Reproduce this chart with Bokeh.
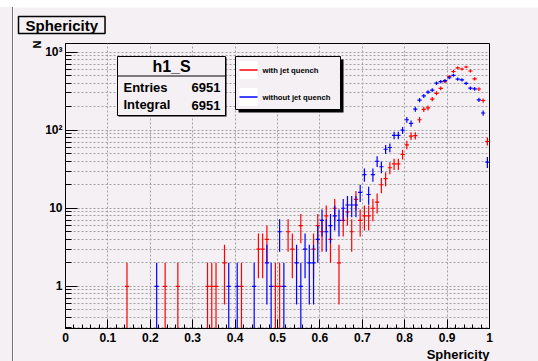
import numpy as np
from bokeh.plotting import figure
from bokeh.models import (Range1d, FixedTicker, CustomJSTickFormatter,
                          BoxAnnotation, Label, ColumnDataSource, Title,
                          Div, Spacer)
from bokeh.layouts import column, row
from bokeh.embed import file_html
from bokeh.resources import INLINE

# ---------------- data ----------------
n_bins = 100
x_min, x_max = 0.0, 1.0

with_quench = [
    0, 0, 0, 0, 0, 0, 0, 0, 0, 0,
    0, 0, 0, 0, 1, 0, 0, 0, 0, 0,
    0, 0, 0, 1, 0, 0, 1, 0, 0, 0,
    0, 0, 0, 1, 1, 1, 0, 2, 0, 0,
    0, 1, 0, 0, 0, 3, 3, 4, 0, 1,
    1, 0, 5, 3, 0, 6, 0, 0, 3, 6,
    5, 8, 4, 10, 2, 7, 9, 5, 13, 7,
    8, 8, 10, 12, 20, 24, 33, 37, 37, 49,
    65, 84, 85, 136, 185, 193, 250, 297, 343, 420,
    487, 565, 630, 608, 645, 573, 455, 337, 240, 72,
]
without_quench = [
    0, 0, 0, 0, 0, 0, 0, 0, 0, 0,
    0, 0, 0, 0, 0, 0, 0, 0, 0, 0,
    0, 1, 0, 0, 0, 0, 0, 0, 0, 0,
    0, 0, 0, 0, 0, 0, 0, 0, 1, 0,
    1, 0, 0, 0, 1, 0, 0, 2, 1, 0,
    5, 1, 0, 0, 2, 1, 3, 2, 2, 4,
    7, 5, 6, 8, 7, 10, 11, 11, 11, 16,
    27, 15, 27, 40, 34, 57, 60, 86, 86, 100,
    136, 122, 186, 243, 275, 308, 327, 400, 420, 432,
    470, 505, 452, 441, 398, 345, 338, 245, 166, 39,
]
series_labels = ["with jet quench", "without jet quench"]
series_colors = ["#ff0000", "#0000ff"]
x_ticks = [0, 0.1, 0.2, 0.3, 0.4, 0.5, 0.6, 0.7, 0.8, 0.9, 1.0]
y_ticks = [1, 10, 100, 1000]
y_minor = [m * 10.0 ** k for k in range(-1, 4) for m in range(2, 10)]
hist_name = "h1_S"
stat_names = ["Entries", "Integral"]
stat_values = ["6951", "6951"]
title_text = "Sphericity"
x_title = "Sphericity"
y_title = "N"

# ---------------- layout ----------------
PW, PH = 538, 361          # page size
OX, OY = 13, 7             # figure origin on the page
W, H = PW - OX, PH - OY    # figure size
L, R, T, B = 65, 489, 43, 329   # frame on the page
BG = "#f4f0f4"
FONT = "Liberation Sans"
GRID = "#a0a0a0"

p = figure(width=W, height=H, x_range=Range1d(x_min, x_max),
           y_range=Range1d(0.288, 1290), y_axis_type="log",
           output_backend="svg", toolbar_location=None,
           min_border_left=L - OX, min_border_right=PW - R,
           min_border_top=T - OY, min_border_bottom=PH - B,
           background_fill_color=BG, border_fill_color=BG,
           outline_line_color="black", outline_line_width=1)

# title box
p.title.text = title_text
p.title.align = "left"
p.title.vertical_align = "top"
p.title.offset = 17 - L + 1
p.title.standoff = 16
p.title.text_font = FONT
p.title.text_font_size = "15px"
p.title.text_font_style = "bold"
p.title.text_color = "black"
p.title.background_fill_color = BG
p.title.border_line_color = "black"
p.title.border_line_width = 1.5
p.title.padding = (7, 0)

p.xaxis.ticker = FixedTicker(ticks=x_ticks,
                             minor_ticks=[i * 0.02 for i in range(51)])
p.xaxis.formatter = CustomJSTickFormatter(
    code="return tick.toFixed(1).replace(/\\.0$/, '');")
p.yaxis.ticker = FixedTicker(ticks=y_ticks, minor_ticks=y_minor)
p.yaxis.formatter = CustomJSTickFormatter(code="""
const e = Math.round(Math.log10(tick));
const sup = '\u2070\u00b9\u00b2\u00b3\u2074\u2075\u2076\u2077\u2078\u2079';
if (e >= 2) return '10' + sup[e];
return String(Math.round(tick));
""")
for ax in (p.xaxis, p.yaxis):
    ax.axis_line_color = "black"
    ax.major_tick_line_color = "black"
    ax.minor_tick_line_color = "black"
    ax.major_tick_out = 0
    ax.minor_tick_out = 0
    ax.major_label_text_font = FONT
    ax.major_label_text_font_style = "bold"
    ax.major_label_text_font_size = "12px"
    ax.major_label_text_color = "black"
p.xaxis.major_tick_in = 9
p.xaxis.minor_tick_in = 4
p.yaxis.major_tick_in = 12
p.yaxis.minor_tick_in = 6
p.xaxis.major_label_standoff = 4
p.yaxis.major_label_standoff = 3

p.xgrid.grid_line_color = GRID
p.xgrid.grid_line_dash = "2 2"
p.ygrid.grid_line_color = GRID
p.ygrid.grid_line_dash = "2 2"
p.ygrid.minor_grid_line_color = GRID
p.ygrid.minor_grid_line_dash = "2 2"

# axis titles (outside the frame)
p.add_layout(Title(text=x_title, align="right", text_font=FONT,
                   text_font_size="13px", text_font_style="bold",
                   text_color="black", standoff=0), "below")
p.add_layout(Title(text=y_title, align="right", text_font=FONT,
                   text_font_size="11px", text_font_style="bold",
                   text_color="black", standoff=0, offset=-3), "left")

# ---------------- histograms ----------------
width = (x_max - x_min) / n_bins
centers = x_min + (np.arange(n_bins) + 0.5) * width
for counts, color in zip([with_quench, without_quench], series_colors):
    n = np.asarray(counts, dtype=float)
    m = n > 0
    err = np.sqrt(n[m])
    low = n[m] - err
    low = np.where(low > 0, low, 1e-3)
    src = ColumnDataSource(dict(x=centers[m], y=n[m], lo=low, hi=n[m] + err,
                                xl=centers[m] - width / 2,
                                xr=centers[m] + width / 2))
    p.segment(x0="x", x1="x", y0="lo", y1="hi", source=src,
              line_color=color, line_width=1.2)
    p.segment(x0="xl", x1="xr", y0="y", y1="y", source=src,
              line_color=color, line_width=1.2)


# ---------------- decorations inside the frame (page pixel coords) -------
def box(l, t, r, b, fill, line=None, lw=1):
    p.add_layout(BoxAnnotation(left=l - OX, right=r - OX,
                               top=t - OY, bottom=b - OY,
                               left_units="canvas", right_units="canvas",
                               top_units="canvas", bottom_units="canvas",
                               fill_color=fill, fill_alpha=1.0,
                               line_color=line, line_width=lw,
                               line_alpha=1.0))


def text(x, y, s, size, align="left", style="bold"):
    p.add_layout(Label(x=x - OX, y=y - OY, x_units="canvas",
                       y_units="canvas", text=s, text_font=FONT,
                       text_font_size=size, text_font_style=style,
                       text_align=align, text_baseline="middle",
                       text_color="black"))


# stats box
box(118, 57, 226, 116, "black")
box(117, 56, 225, 115, BG, "black")
box(117, 75, 225, 76, "black")
text(171, 66, hist_name, "16px", align="center")
text(123, 87, stat_names[0], "13px")
text(220, 87, stat_values[0], "13px", align="right")
text(123, 104, stat_names[1], "13px")
text(220, 105, stat_values[1], "13px", align="right")

# legend box
box(238, 59, 343, 112, "black")
box(235, 56, 340, 109, BG, "black")
for i, (lab, col) in enumerate(zip(series_labels, series_colors)):
    yc = 69.5 + i * 27
    box(239, yc - 9, 257, yc + 9, "white")
    box(239, yc - 0.7, 257, yc + 0.7, col)
    text(262, yc, lab, "7.7px")

# ---------------- page: white top band and left border line --------------
left_pad = Div(width=OX - 1, height=H, margin=0,
               styles={"background-color": BG})
left_line = Div(width=1, height=H, margin=0,
                styles={"background-color": "#777777"})
page = column(Spacer(width=PW, height=OY, margin=0),
              row(left_pad, left_line, p, spacing=0, margin=0),
              spacing=0, margin=0)

open("out.html", "w").write(file_html(page, INLINE))
